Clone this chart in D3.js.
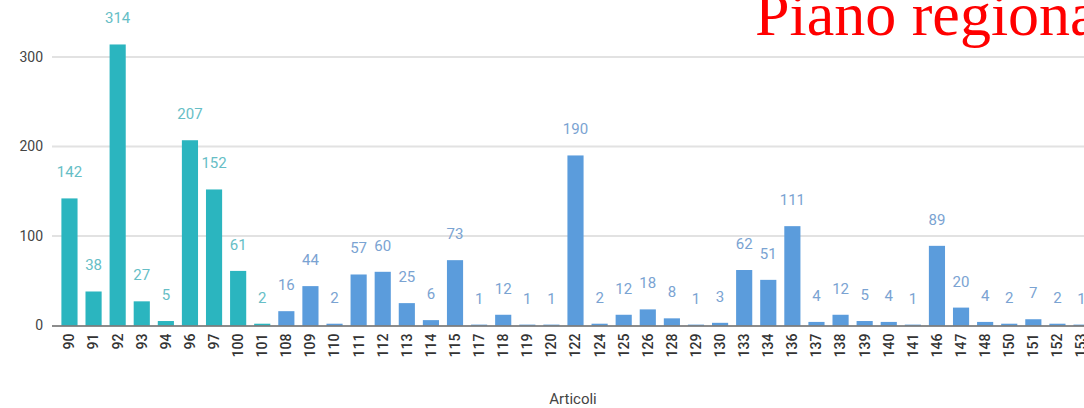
<!DOCTYPE html>
<html><head><meta charset="utf-8">
<script src="https://cdn.jsdelivr.net/npm/d3@7"></script>
<style>body{margin:0;background:#fff;overflow:hidden}svg{display:block}</style>
</head><body>
<svg id="c" width="1084" height="408"></svg>
<script>
const categories = ["90","91","92","93","94","96","97","100","101","108","109","110","111","112","113","114","115","117","118","119","120","122","124","125","126","128","129","130","133","134","136","137","138","139","140","141","146","147","148","150","151","152","153"];
const values = [142,38,314,27,5,207,152,61,2,16,44,2,57,60,25,6,73,1,12,1,1,190,2,12,18,8,1,3,62,51,111,4,12,5,4,1,89,20,4,2,7,2,1];
const tealCount = 9; // first group drawn in teal
const yTicks = [0,100,200,300];

const svg = d3.select("#c");
const x = d3.scaleBand().domain(categories).range([52,1099]).paddingInner(0.33).paddingOuter(0.39);
const y = d3.scaleLinear().domain([0,300]).range([325.5,57]);

// gridlines
svg.append("g").selectAll("line").data(yTicks.filter(d=>d>0)).join("line")
  .attr("x1",52).attr("x2",1084).attr("y1",d=>y(d)).attr("y2",d=>y(d))
  .attr("stroke","#e2e2e2").attr("stroke-width",2);

// y axis labels
const ya = svg.append("g").attr("transform","translate(52,0)")
  .call(d3.axisLeft(y).tickValues(yTicks).tickSize(0).tickPadding(9));
ya.select(".domain").remove();
ya.selectAll("text").attr("font-family","Roboto, sans-serif").attr("font-size",14).attr("fill","#444");

const isTeal = (i)=> i < tealCount;
// bars
svg.append("g").selectAll("rect").data(values).join("rect")
  .attr("x",(d,i)=>x(categories[i])).attr("width",x.bandwidth())
  .attr("y",d=>y(d)).attr("height",d=>y(0)-y(d))
  .attr("fill",(d,i)=>isTeal(i)?"#2bb5bf":"#5b9cdc");

// baseline
svg.append("line").attr("x1",52).attr("x2",1084).attr("y1",y(0)+0.5).attr("y2",y(0)+0.5)
  .attr("stroke","#666").attr("stroke-width",1.5);

// value labels
svg.append("g").selectAll("text").data(values).join("text")
  .attr("x",(d,i)=>x(categories[i])+x.bandwidth()/2)
  .attr("y",d=>y(d)-21)
  .attr("text-anchor","middle")
  .attr("font-family","Roboto, sans-serif").attr("font-size",15)
  .attr("fill",(d,i)=>isTeal(i)?"#66bec6":"#7aa3d2")
  .text(d=>d);

// x axis
const xa = svg.append("g").attr("transform",`translate(0,${y(0)})`)
  .call(d3.axisBottom(x).tickSize(0).tickPadding(0));
xa.select(".domain").remove();
xa.selectAll("text")
  .attr("transform","rotate(-90)")
  .attr("text-anchor","end").attr("dy","0.35em").attr("x",-8).attr("y",0)
  .attr("font-family","Roboto, sans-serif").attr("font-size",14).attr("font-weight",500).attr("fill","#333");

svg.append("text").attr("x",573).attr("y",404).attr("text-anchor","middle")
  .attr("font-family","Roboto, sans-serif").attr("font-size",15).attr("fill","#444").text("Articoli");

svg.append("text").attr("x",755).attr("y",35)
  .attr("font-family","'Liberation Serif', 'Times New Roman', serif").attr("font-size",62).attr("fill","#ff0000")
  .text("Piano regionale");
</script>
</body></html>
